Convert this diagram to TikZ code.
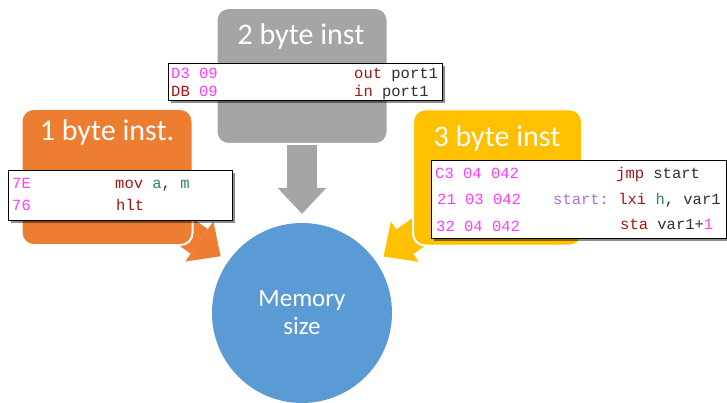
\documentclass[tikz,border=0pt]{standalone}
\usepackage{fontspec}
\setmainfont{Carlito}
\setmonofont{Liberation Mono}
\usepackage{tikz}
\usetikzlibrary{positioning}
\usetikzlibrary{arrows.meta,shadows,backgrounds}

\definecolor{grayblk}{HTML}{A5A5A5}
\definecolor{orangeblk}{HTML}{ED7D31}
\definecolor{yellowblk}{HTML}{FFC000}
\definecolor{memblue}{HTML}{5B9BD5}
\definecolor{hexpink}{HTML}{FF3CFF}
\definecolor{opred}{HTML}{A31515}
\definecolor{reggreen}{HTML}{2E8B57}
\definecolor{lblpurple}{HTML}{B070E0}
\definecolor{argblack}{HTML}{303030}

\newcommand{\hx}[1]{\textcolor{hexpink}{#1}}
\newcommand{\mn}[1]{\textcolor{opred}{#1}}
\newcommand{\rg}[1]{\textcolor{reggreen}{#1}}
\newcommand{\lbl}[1]{\textcolor{lblpurple}{#1}}

\tikzset{
  instbox/.style={rectangle, rounded corners=12pt, draw=white, line width=2pt,
    minimum width=171pt, minimum height=136pt},
  insttitle/.style={text=white, inner sep=0pt, font=\fontsize{30}{34}\selectfont},
  codebox/.style={rectangle, draw=black, line width=1pt, fill=white,
    drop shadow={shadow xshift=2.5pt, shadow yshift=-2.5pt, fill=black, opacity=0.45}},
  codeline/.style={anchor=base west, inner sep=0pt, text=argblack,
    font=\ttfamily\fontsize{15.5}{18}\selectfont},
  blockarrow/.style={line width=30pt, shorten >=9pt,
    -{Triangle[width=49pt, length=26pt, line width=0pt]}},
}

\begin{document}
\begin{tikzpicture}[x=1pt, y=1pt]
    \useasboundingbox (0,0) rectangle (727,402);
    \clip (0,0) rectangle (727,402);

    % instruction groups
    \node(two) [instbox, fill=grayblk] at (302,326) {};
    \node(one) [instbox, fill=orangeblk] at (107,225) {};
    \node(three) [instbox, fill=yellowblk, minimum width=169pt] at (497.5,224.5) {};
    \node(mem) [circle, fill=memblue, minimum size=180pt, text=white, align=center,
        font=\fontsize{25}{28}\selectfont] at (302,89) {Memory\\size};

    \node(twot) [insttitle] at (301,365) {2 byte inst};
    \node(onet) [insttitle] at (107,269) {1 byte inst.};
    \node(threet) [insttitle] at (497,263) {3 byte inst};

    % arrows into memory
    \begin{scope}[on background layer]
    \draw[blockarrow, grayblk](two.center) -- (mem);
    \draw[blockarrow, orangeblk](one.center) -- (mem);
    \draw[blockarrow, yellowblk](three.center) -- (mem);
    \end{scope}

    % 2 byte code
    \node(c2) [codebox, minimum width=274pt, minimum height=37pt] at (305,319.5) {};
    \node(d3) [codeline] at (171,323.5) {\hx{D3 09}};
    \node(db) [codeline] at (171,305.5) {\mn{DB} \hx{09}};
    \node(outp) [codeline] at (354,323.5) {\mn{out} port1};
    \node(inp) [codeline] at (354,305.5) {\mn{in} port1};

    % 1 byte code
    \node(c1) [codebox, minimum width=224pt, minimum height=49pt] at (120,206.5) {};
    \node(x7e) [codeline] at (12,213.5) {\hx{7E}};
    \node(x76) [codeline] at (12,191.5) {\hx{76}};
    \node(mov) [codeline] at (115,213.5) {\mn{mov} \rg{a}, \rg{m}};
    \node(hlt) [codeline] at (116,191.5) {\mn{hlt}};

    % 3 byte code
    \node(c3) [codebox, minimum width=295pt, minimum height=77pt] at (578.5,202.5) {};
    \node(xc3) [codeline] at (435,223.5) {\hx{C3 04 042}};
    \node(x21) [codeline] at (437,197) {\hx{21 03 042}};
    \node(x32) [codeline] at (436,171) {\hx{32 04 042}};
    \node(jmp) [codeline] at (616,223.5) {\mn{jmp} start};
    \node(lxi) [codeline] at (553,197) {\lbl{start:} \mn{lxi} \rg{h}, var1};
    \node(sta) [codeline] at (620,172.5) {\mn{sta} var1+\hx{1}};
\end{tikzpicture}
\end{document}
